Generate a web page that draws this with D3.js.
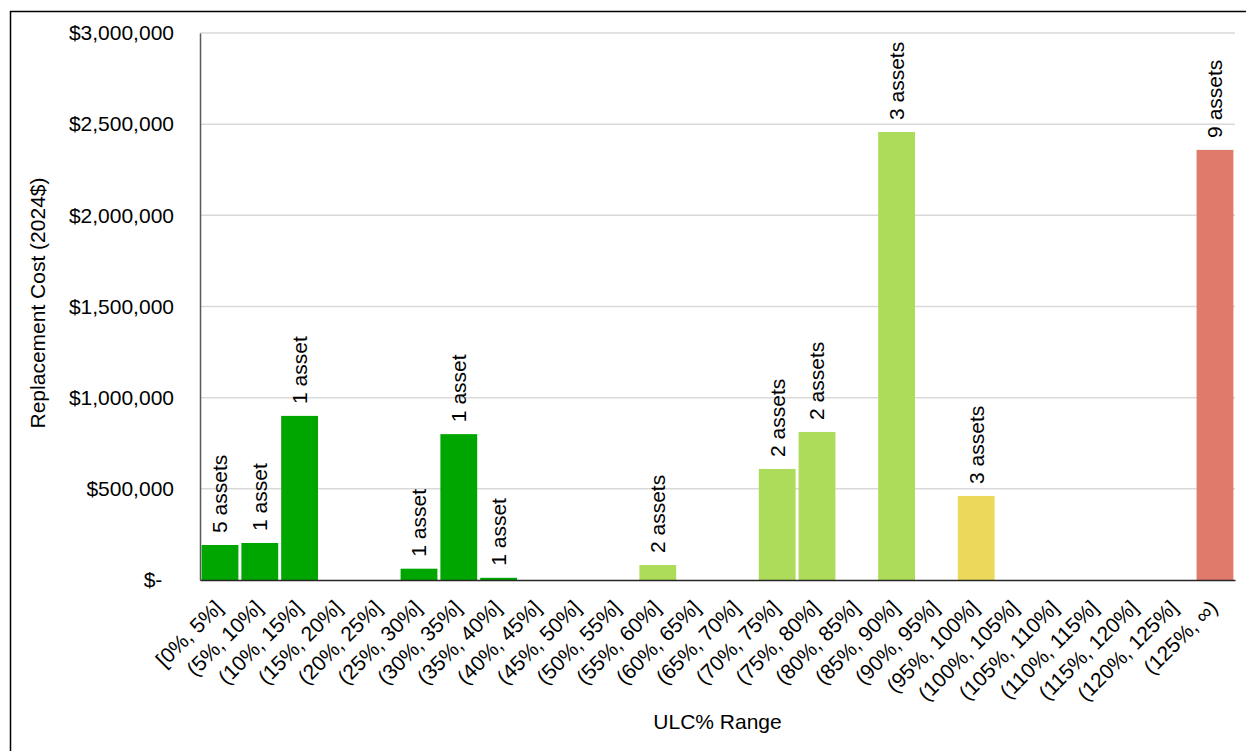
<!DOCTYPE html>
<html>
<head>
<meta charset="utf-8">
<script src="https://cdn.jsdelivr.net/npm/d3@7"></script>
<style>
  body { margin: 0; background: #fff; }
  svg { display: block; font-family: "Liberation Sans", Arial, sans-serif; }
  .tick text { fill: #000; }
</style>
</head>
<body>
<script>
var w = 1246;
var h = 751;

// ULC% bins
var categories = [
	'[0%, 5%]', '(5%, 10%]', '(10%, 15%]', '(15%, 20%]', '(20%, 25%]', '(25%, 30%]',
	'(30%, 35%]', '(35%, 40%]', '(40%, 45%]', '(45%, 50%]', '(50%, 55%]', '(55%, 60%]',
	'(60%, 65%]', '(65%, 70%]', '(70%, 75%]', '(75%, 80%]', '(80%, 85%]', '(85%, 90%]',
	'(90%, 95%]', '(95%, 100%]', '(100%, 105%]', '(105%, 110%]', '(110%, 115%]',
	'(115%, 120%]', '(120%, 125%]', '(125%, \u221e)'
];
// replacement cost per bin (2024$)
var costs = [
	192000, 203000, 900000, 0, 0, 62000,
	800000, 12000, 0, 0, 0, 82000,
	0, 0, 609000, 812000, 0, 2457000,
	0, 461000, 0, 0, 0,
	0, 0, 2359000
];
// number of assets per bin
var assetCounts = [
	5, 1, 1, 0, 0, 1,
	1, 1, 0, 0, 0, 2,
	0, 0, 2, 2, 0, 3,
	0, 3, 0, 0, 0,
	0, 0, 9
];
var yTicks = [0, 500000, 1000000, 1500000, 2000000, 2500000, 3000000];

var plotLeft = 200, plotRight = 1235, plotTop = 33, plotBottom = 580;

var svg = d3.select('body')
	.append('svg')
	.attr('width', w)
	.attr('height', h);

svg.append('rect')
	.attr('x', 10.5).attr('y', 11.5)
	.attr('width', 1300).attr('height', 800)
	.attr('fill', 'none')
	.attr('stroke', '#000')
	.attr('stroke-width', 1.5);

var x = d3.scaleBand()
	.domain(categories)
	.range([plotLeft, plotRight])
	.paddingInner(0.075)
	.paddingOuter(0.04);

var y = d3.scaleLinear()
	.domain([0, 3000000])
	.range([plotBottom, plotTop]);

// colour by upper bound of the bin
var color = d3.scaleThreshold()
	.domain([41, 96, 126])
	.range(['#00a600', '#addb5a', '#ecd95b', '#e07b6b']);

// gridlines
svg.append('g')
	.selectAll('line')
	.data(yTicks.slice(1))
	.enter()
	.append('line')
	.attr('x1', plotLeft).attr('x2', plotRight)
	.attr('y1', function(d) { return y(d); })
	.attr('y2', function(d) { return y(d); })
	.attr('stroke', '#d9d9d9')
	.attr('stroke-width', 1.5);

// y axis
var yAxis = svg.append('g')
	.attr('transform', 'translate(' + plotLeft + ',0)')
	.call(d3.axisLeft(y)
		.tickValues(yTicks)
		.tickSize(0)
		.tickPadding(26)
		.tickFormat(function(d) { return d === 0 ? '$-\u00a0\u00a0' : d3.format('$,')(d); }));
yAxis.select('.domain').attr('stroke', '#595959').attr('stroke-width', 1.5);
yAxis.selectAll('text').style('font-size', '21px').style('font-family', '"Liberation Sans", Arial, sans-serif');

// bars
svg.append('g')
	.selectAll('rect')
	.data(costs)
	.enter()
	.append('rect')
	.attr('x', function(d, i) { return x(categories[i]); })
	.attr('y', function(d) { return y(d); })
	.attr('width', x.bandwidth())
	.attr('height', function(d) { return plotBottom - y(d); })
	.attr('fill', function(d, i) { return color((i + 1) * 5); });

// x axis
var xAxis = svg.append('g')
	.attr('transform', 'translate(0,' + plotBottom + ')')
	.call(d3.axisBottom(x).tickSize(0).tickFormat(''));
xAxis.select('.domain').attr('stroke', '#262626').attr('stroke-width', 1.5);

svg.append('g')
	.selectAll('text')
	.data(categories)
	.enter()
	.append('text')
	.attr('transform', function(d) {
		return 'translate(' + (x(d) + x.bandwidth() / 2 + 4) + ',' + (plotBottom + 29) + ') rotate(-45)';
	})
	.attr('text-anchor', 'end')
	.style('font-size', '21px')
	.text(function(d) { return d; });

// asset count labels above the bars
var countG = svg.append('g');
assetCounts.forEach(function(n, i) {
	if (n === 0) return;
	countG.append('text')
		.attr('transform', 'translate(' + (x(categories[i]) + x.bandwidth() / 2) + ',' + (y(costs[i]) - 12) + ') rotate(-90)')
		.attr('dy', '0.35em')
		.style('font-size', '21px')
		.text(n === 1 ? '1 asset' : n + ' assets');
});

// axis titles
svg.append('text')
	.attr('transform', 'translate(38,303) rotate(-90)')
	.attr('text-anchor', 'middle')
	.attr('dy', '0.35em')
	.style('font-size', '21px')
	.text('Replacement Cost (2024$)');

svg.append('text')
	.attr('x', (plotLeft + plotRight) / 2)
	.attr('y', 729)
	.attr('text-anchor', 'middle')
	.style('font-size', '21px')
	.text('ULC% Range');
</script>
</body>
</html>
